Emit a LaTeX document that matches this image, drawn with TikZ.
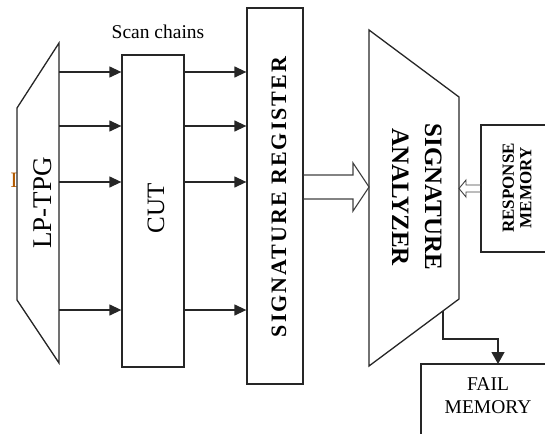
\documentclass[tikz,border=0pt]{standalone}
\usepackage{fontspec}
\setmainfont{Liberation Serif}
\usetikzlibrary{arrows.meta}
\begin{document}
\begin{tikzpicture}[x=1pt,y=-1pt,
  ln/.style={draw=black!85,line width=1.3pt,line join=miter},
  box/.style={ln,rectangle,inner sep=0pt,fill=white},
  arr/.style={ln,-{Triangle[length=12pt,width=11pt]}},
  hollow/.style={draw=black!75,line width=1.1pt,line join=miter},
  lbl/.style={inner sep=0pt,text=black}]
\useasboundingbox (0,0) rectangle (545,433);
% stray glyph
\node[lbl,text=orange!70!black,font=\fontsize{22}{22}\selectfont] (stray) at (14,180) {I};
% LP-TPG
\coordinate (lpA) at (17,108);
\coordinate (lpB) at (59,43);
\coordinate (lpC) at (59,363);
\coordinate (lpD) at (17,300);
\draw[ln,fill=white] (lpA)--(lpB)--(lpC)--(lpD)--cycle;
\node[lbl,rotate=90,font=\fontsize{27}{27}\selectfont] (lptext) at (43,203) {LP-TPG};
% CUT
\node[box,minimum width=62pt,minimum height=312pt] (cut) at (153,211) {};
\node[lbl,rotate=90,font=\fontsize{25}{25}\selectfont] (cuttext) at (156,208) {CUT};
\node[lbl,font=\fontsize{19.5}{20}\selectfont] (scan) at (158,32) {Scan chains};
% Signature register
\node[box,minimum width=56pt,minimum height=376pt] (sr) at (275,196) {};
\node[lbl,rotate=90,font=\fontsize{22}{22}\selectfont\bfseries] (srtext) at (279,197) {\addfontfeature{LetterSpace=9}SIGNATURE REGISTER};
% arrows
\foreach \yy in {72,126,182,310} {
  \draw[arr] (lpB |- 0,\yy) -- (cut.west |- 0,\yy);
  \draw[arr] (cut.east |- 0,\yy) -- (sr.west |- 0,\yy);
}
% Signature analyzer
\coordinate (saA) at (369,30);
\coordinate (saB) at (459,97);
\coordinate (saC) at (459,299);
\coordinate (saD) at (369,366);
\draw[ln] (saA)--(saB)--(saC)--(saD)--cycle;
\node[lbl,rotate=-90,align=center,font=\fontsize{25}{33}\selectfont\bfseries] (satext) at (417,197)
  {SIGNATURE\\ANALYZER};
% big hollow arrow SR -> SA
\draw[hollow] (sr.east |- 0,175) -- (353,175) -- (353,163) -- (saA |- 0,187) -- (353,211) -- (353,199) -- (sr.east |- 0,199);
% Response memory
\coordinate (rmA) at (481,125);
\coordinate (rmB) at (481,252);
\draw[ln] (550,125) -- (rmA) -- (rmB) -- (550,252);
\node[lbl,rotate=90,align=center,font=\fontsize{17}{17.5}\selectfont\bfseries] (rmtext) at (517,188)
  {RESPONSE\\MEMORY};
% small hollow arrow RM -> SA
\draw[hollow,line width=0.9pt] (rmA |- 0,185) -- (466,185) -- (466,180) -- (saB |- 0,188.5) -- (466,197) -- (466,192) -- (rmA |- 0,192);
% Fail memory
\coordinate (fmA) at (421,364);
\draw[ln] (550,364) -- (fmA) -- (421,440);
\node[lbl,align=center,font=\fontsize{19.5}{23}\selectfont] (fmtext) at (488,396)
  {FAIL\\MEMORY};
\coordinate (fs) at (443,311);
\draw[ln,-{Triangle[length=12pt,width=13pt]}] (fs) -- (443,339) -- (498,339) -- (498,364);
\end{tikzpicture}
\end{document}
